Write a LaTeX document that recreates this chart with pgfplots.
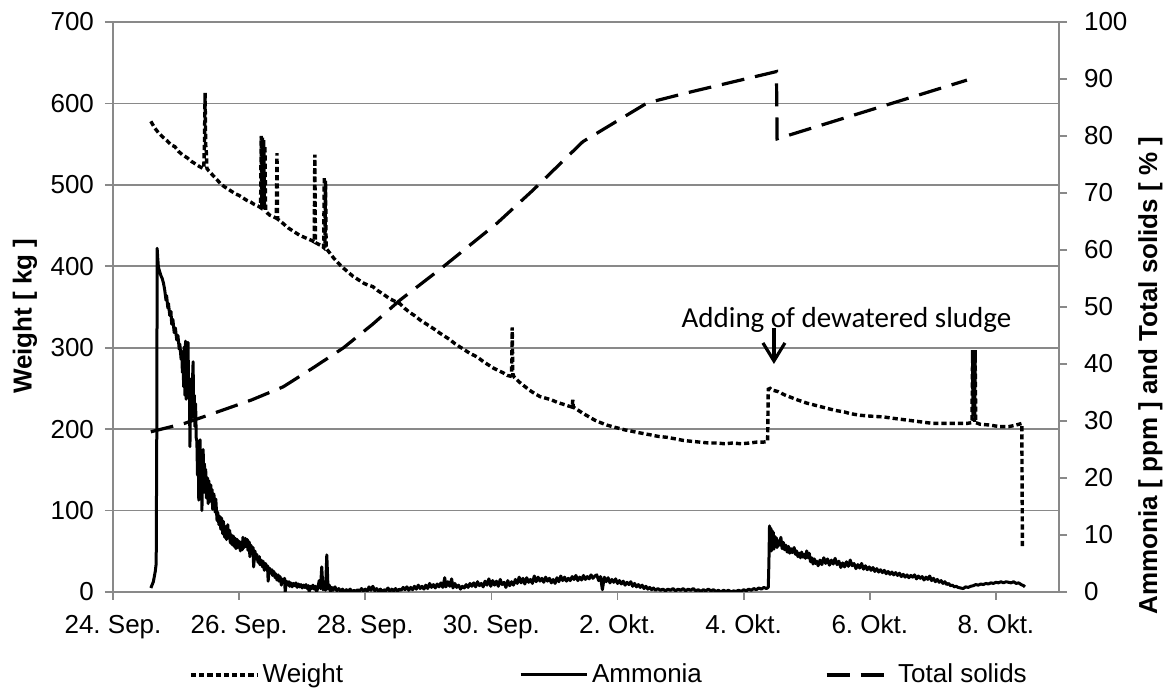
\documentclass[border=0pt]{standalone}
\usepackage{pgfplots}
\usepackage{pgfplotstable}
\pgfplotsset{compat=1.18}
\usetikzlibrary{arrows.meta}
\usepackage{fontspec}
\setmainfont{Liberation Sans}
\newfontfamily\calibri{Carlito}
\definecolor{gridgray}{RGB}{137,137,137}
\newcommand\tfont{\fontsize{13}{15}\selectfont}

\pgfplotstableread{
x y
0.60 578
0.66 570
0.72 564
0.80 558
0.86 554
0.92 549
0.98 547
1.04 541
1.10 537
1.18 533
1.24 529
1.30 526
1.36 523
1.43 520
1.44 521
1.45 552
1.46 613
1.47 549
1.48 540
1.49 520
1.52 517
1.58 512
1.64 507
1.70 502
1.76 498
1.82 495
1.88 492
1.94 489
2.00 487
2.06 484
2.12 481
2.18 479
2.24 476
2.30 474
2.34 472
2.35 560
2.36 472
2.37 558
2.38 470
2.39 555
2.40 470
2.41 548
2.42 468
2.44 466
2.48 463
2.54 461
2.59 459
2.60 539
2.61 458
2.66 455
2.72 451
2.78 447
2.84 444
2.90 441
2.96 438
3.02 436
3.08 434
3.14 432
3.19 430
3.20 537
3.21 429
3.26 427
3.31 425
3.34 423
3.35 510
3.36 423
3.37 505
3.38 422
3.44 416
3.50 410
3.56 405
3.62 400
3.68 396
3.74 392
3.80 388
3.86 385
3.92 382
3.98 379
4.04 377
4.12 375
4.20 370
4.28 366
4.39 360
4.47 357
4.55 354
4.63 348
4.71 343
4.79 339
4.87 334
4.95 330
5.03 326
5.11 322
5.18 318
5.26 314
5.34 310
5.42 305
5.50 301
5.58 297
5.66 293
5.74 290
5.82 286
5.87 283
5.95 279
6.03 275
6.11 272
6.19 269
6.25 266
6.30 265
6.32 268
6.33 325
6.34 268
6.36 264
6.44 258
6.52 253
6.60 248
6.68 244
6.77 240
6.86 238
6.95 236
7.04 233
7.12 231
7.20 229
7.28 227
7.29 236
7.30 227
7.38 223
7.46 219
7.55 215
7.64 211
7.73 208
7.83 205
7.92 203
8.02 201
8.12 199
8.25 197
8.38 195
8.52 193
8.65 191
8.78 190
8.92 188
9.05 186
9.18 185
9.31 184
9.44 183
9.57 183
9.70 182
9.83 183
9.96 182
10.10 183
10.20 184
10.31 184
10.38 185
10.39 249
10.42 250
10.45 248
10.55 246
10.65 242
10.75 239
10.85 236
11.00 232
11.15 229
11.30 226
11.45 223
11.60 221
11.69 219
11.85 217
12.00 216
12.21 215
12.40 213
12.60 211
12.80 209
13.00 207
13.20 207
13.40 207
13.54 207
13.62 208
13.63 297
13.64 210
13.65 296
13.66 209
13.67 297
13.68 208
13.75 206
13.90 205
14.06 203
14.20 203
14.32 205
14.41 207
14.42 55
}\weight

\pgfplotstableread{
x y
0.60 0.7
0.64 1.8
0.67 3.6
0.685 5.0
0.695 30
0.70 60.3
0.71 58.5
0.72 57.0
0.74 56.2
0.76 55.5
0.78 55.0
0.80 54.2
0.82 53.0
0.84 51.2
0.85 52.0
0.87 49.8
0.88 50.6
0.90 48.5
0.92 49.2
0.93 47.0
0.95 47.8
0.97 45.5
0.99 46.3
1.01 44.2
1.03 45.0
1.05 42.6
1.06 43.5
1.08 40.8
1.09 42.2
1.10 38.5
1.11 41.5
1.12 36.0
1.13 43.0
1.14 34.5
1.15 44.0
1.16 33.8
1.17 41.0
1.18 36.5
1.19 43.8
1.20 34.0
1.21 37.5
1.22 25.5
1.23 35.0
1.24 33.0
1.25 30.5
1.26 36.8
1.27 40.4
1.28 31.2
1.29 34.5
1.30 29.0
1.31 33.0
1.32 27.0
1.33 26.5
1.34 20.5
1.35 25.5
1.36 16.1
1.37 24.0
1.38 26.7
1.39 19.0
1.40 23.5
1.41 14.3
1.42 21.0
1.43 25.0
1.44 17.5
1.45 22.5
1.46 18.5
1.47 21.5
1.48 16.5
1.50 20.0
1.51 15.5
1.52 19.5
1.53 17.0
1.55 18.8
1.56 15.8
1.57 18.0
1.58 14.5
1.60 17.2
1.62 14.0
1.63 16.3
1.65 12.5
1.66 14.0
1.68 11.8
1.69 13.3
1.71 11.0
1.72 13.0
1.74 10.2
1.75 12.4
1.77 9.6
1.78 11.5
1.80 9.2
1.82 11.8
1.83 9.5
1.85 10.8
1.86 8.6
1.88 10.0
1.89 8.3
1.91 9.8
1.92 8.0
1.94 9.4
1.95 7.6
1.97 9.2
1.98 7.8
2.00 8.9
2.02 7.2
2.03 8.7
2.05 7.4
2.06 9.6
2.08 7.8
2.10 9.4
2.11 8.0
2.13 9.2
2.14 7.3
2.16 8.8
2.17 6.2
2.19 8.2
2.20 7.0
2.22 7.8
2.23 4.4
2.25 7.2
2.27 5.8
2.28 6.6
2.30 5.2
2.32 6.2
2.33 4.8
2.35 5.6
2.37 4.4
2.38 5.4
2.40 3.8
2.42 5.0
2.43 4.0
2.45 4.6
2.46 1.9
2.48 4.2
2.50 3.4
2.52 3.9
2.53 2.9
2.55 3.6
2.57 2.5
2.58 3.2
2.60 2.1
2.62 3.0
2.63 1.9
2.65 2.7
2.67 1.2
2.68 2.3
2.70 1.8
2.72 2.4
2.73 0.0
2.75 1.9
2.77 1.3
2.79 1.8
2.80 1.0
2.82 1.6
2.84 0.9
2.86 1.5
2.88 1.1
2.90 1.6
2.92 0.8
2.94 1.4
2.96 0.9
2.98 1.3
3.00 0.7
3.02 1.2
3.04 0.8
3.06 1.3
3.08 0.6
3.10 1.1
3.11 0.0
3.13 1.0
3.15 0.6
3.17 1.2
3.19 0.5
3.21 1.0
3.23 0.0
3.25 0.9
3.27 2.0
3.29 0.6
3.31 4.4
3.33 0.4
3.35 1.0
3.37 0.3
3.39 6.5
3.41 0.5
3.43 1.2
3.45 0.0
3.47 0.8
3.49 0.3
3.52 0.9
3.55 0.2
3.58 0.6
3.61 0.1
3.64 0.5
3.67 0.0
3.70 0.4
3.73 0.1
3.76 0.5
3.79 0.0
3.82 0.3
3.85 0.1
3.88 0.4
3.91 0.1
3.94 0.6
3.97 0.2
4.00 0.5
4.03 0.1
4.06 0.9
4.09 0.3
4.12 1.0
4.15 0.2
4.18 0.6
4.21 0.1
4.24 0.5
4.27 0.0
4.30 0.4
4.33 0.2
4.36 0.7
4.39 0.1
4.42 0.5
4.45 0.2
4.48 0.6
4.51 0.1
4.54 0.5
4.57 0.3
4.60 0.8
4.63 0.4
4.66 0.9
4.69 0.3
4.72 0.8
4.75 0.4
4.78 1.0
4.81 0.5
4.84 1.2
4.87 0.6
4.90 1.0
4.93 0.5
4.96 1.2
4.99 0.6
5.02 1.5
5.05 0.8
5.08 1.3
5.11 0.7
5.14 1.4
5.17 0.9
5.20 1.6
5.23 0.8
5.26 2.5
5.28 0.9
5.31 1.8
5.34 1.0
5.37 2.3
5.39 0.7
5.42 1.5
5.45 0.8
5.48 1.2
5.51 0.5
5.54 1.0
5.57 0.7
5.60 1.3
5.63 0.8
5.66 1.5
5.69 1.0
5.72 1.6
5.75 0.9
5.78 1.8
5.81 1.1
5.84 1.5
5.87 0.9
5.90 1.9
5.93 1.2
5.96 2.3
5.99 1.0
6.02 2.0
6.05 1.2
6.08 1.9
6.11 1.0
6.14 2.2
6.17 1.3
6.20 1.7
6.23 0.8
6.26 2.0
6.29 1.1
6.32 1.8
6.35 1.2
6.38 2.2
6.41 1.5
6.44 2.6
6.47 1.6
6.50 2.4
6.53 1.4
6.56 2.5
6.59 1.7
6.62 2.2
6.65 1.5
6.68 2.8
6.71 1.8
6.74 2.6
6.77 1.9
6.80 2.4
6.83 1.7
6.86 2.6
6.89 1.9
6.92 2.4
6.95 1.6
6.98 2.2
7.01 1.5
7.04 2.5
7.07 1.8
7.10 2.8
7.13 2.0
7.16 2.6
7.19 1.9
7.22 2.4
7.25 2.0
7.28 2.7
7.31 2.2
7.34 2.9
7.37 2.0
7.40 2.6
7.43 2.1
7.46 2.9
7.49 2.2
7.52 2.7
7.55 2.3
7.58 3.0
7.61 2.4
7.64 2.8
7.67 3.0
7.70 2.0
7.73 2.7
7.76 0.4
7.79 2.6
7.82 1.8
7.85 2.5
7.88 1.6
7.91 2.2
7.94 1.7
7.97 2.3
8.00 1.5
8.03 2.0
8.06 1.4
8.09 1.9
8.12 1.2
8.15 1.7
8.18 1.3
8.21 1.8
8.24 1.0
8.27 1.5
8.30 0.9
8.33 1.3
8.36 0.8
8.39 1.2
8.42 0.6
8.45 1.0
8.48 0.5
8.51 0.8
8.54 0.4
8.57 0.7
8.60 0.3
8.64 0.6
8.68 0.3
8.72 0.5
8.76 0.2
8.80 0.5
8.84 0.3
8.88 0.6
8.92 0.2
8.96 0.5
9.00 0.3
9.04 0.6
9.08 0.2
9.12 0.5
9.16 0.3
9.20 0.6
9.24 0.2
9.28 0.4
9.32 0.1
9.36 0.4
9.40 0.2
9.44 0.5
9.48 0.2
9.52 0.4
9.56 0.1
9.60 0.3
9.64 0.0
9.68 0.3
9.72 0.1
9.76 0.3
9.80 0.0
9.84 0.2
9.88 0.1
9.92 0.3
9.96 0.1
10.00 0.4
10.04 0.2
10.08 0.5
10.12 0.3
10.16 0.6
10.20 0.4
10.24 0.7
10.28 0.5
10.32 0.8
10.36 0.6
10.39 0.8
10.40 5.0
10.41 11.6
10.42 9.0
10.43 11.2
10.44 7.2
10.45 10.8
10.46 8.0
10.47 10.5
10.48 7.5
10.49 9.8
10.50 8.3
10.52 9.5
10.53 7.8
10.55 9.0
10.57 8.2
10.59 9.6
10.61 7.6
10.63 8.7
10.65 7.4
10.67 8.2
10.69 7.0
10.71 8.0
10.73 6.8
10.75 7.6
10.77 6.9
10.80 7.8
10.82 6.6
10.84 7.2
10.86 6.2
10.88 6.8
10.90 6.0
10.92 7.0
10.94 6.1
10.96 6.6
10.98 5.9
11.00 7.2
11.02 6.0
11.04 6.8
11.06 5.3
11.08 6.0
11.10 4.9
11.12 5.8
11.14 5.0
11.16 5.4
11.18 4.6
11.21 5.6
11.24 4.8
11.27 6.0
11.30 5.0
11.33 5.8
11.36 4.7
11.39 5.6
11.42 4.9
11.45 5.9
11.48 4.8
11.51 5.4
11.54 4.3
11.57 5.1
11.60 4.4
11.63 5.3
11.66 4.5
11.69 5.6
11.72 4.6
11.75 5.0
11.78 4.1
11.81 4.8
11.84 4.2
11.87 5.0
11.90 4.0
11.93 4.6
11.96 3.9
11.99 4.4
12.02 3.8
12.05 4.3
12.08 3.6
12.11 4.1
12.14 3.5
12.17 3.9
12.20 3.4
12.23 3.8
12.26 3.2
12.29 3.6
12.32 3.1
12.35 3.5
12.38 3.0
12.41 3.4
12.44 2.9
12.47 3.3
12.50 2.7
12.53 3.1
12.56 2.6
12.59 3.0
12.62 2.5
12.65 2.9
12.68 2.6
12.71 3.0
12.74 2.3
12.77 2.8
12.80 2.4
12.83 2.7
12.86 2.1
12.89 2.6
12.92 2.2
12.95 2.8
12.98 2.0
13.01 2.4
13.04 1.8
13.07 2.2
13.10 1.7
13.13 2.0
13.16 1.5
13.19 1.8
13.22 1.3
13.25 1.5
13.28 1.1
13.31 1.2
13.34 0.9
13.37 1.0
13.40 0.8
13.44 0.7
13.48 0.6
13.52 0.9
13.56 0.8
13.60 1.0
13.64 1.1
13.68 1.3
13.72 1.2
13.76 1.4
13.80 1.3
13.84 1.5
13.88 1.4
13.92 1.6
13.96 1.5
14.00 1.7
14.04 1.6
14.08 1.8
14.12 1.6
14.16 1.8
14.20 1.7
14.24 1.6
14.28 1.8
14.32 1.5
14.36 1.6
14.40 1.3
14.44 1.1
14.46 0.9
}\ammonia

\pgfplotstableread{
x y
0.60 28.1
1.14 29.6
1.66 31.6
2.20 33.7
2.70 36.0
3.17 39.3
3.65 42.8
4.12 47.0
4.55 51.2
5.23 57.0
6.09 64.7
6.66 70.5
7.45 79.0
8.47 85.8
9.15 87.7
10.52 91.3
10.53 79.5
13.54 89.8
}\solids

\tikzset{
  wstyle/.style={black, line width=1.7pt, dash pattern=on 2.6pt off 1.5pt},
  astyle/.style={black, line width=1.5pt, line join=round},
  tsstyle/.style={black, line width=1.6pt, dash pattern=on 11.5pt off 5.5pt},
}
\pgfplotsset{
  common/.style={
    scale only axis, width=473pt, height=285pt,
    xmin=0, xmax=15,
    axis line style={draw=gridgray, line width=0.9pt},
    tick style={draw=gridgray, line width=0.9pt},
    tick align=outside, major tick length=4pt,
    /pgf/number format/assume math mode=true,
    label style={font=\fontsize{13}{15}\selectfont\bfseries},
  }
}

\begin{document}
\frenchspacing
\begin{tikzpicture}
\begin{axis}[common, name=ax,
  ymin=0, ymax=700,
  axis x line*=bottom, axis y line*=left,
  xtick={0,2,...,14},
  xticklabels={{\tfont 24. Sep.},{\tfont 26. Sep.},{\tfont 28. Sep.},{\tfont 30. Sep.},{\tfont 2. Okt.},{\tfont 4. Okt.},{\tfont 6. Okt.},{\tfont 8. Okt.}},
  xticklabel style={font=\tfont, yshift=-4pt},
  ytick={0,100,...,700},
  yticklabel={\tfont\pgfmathprintnumber{\tick}},
  yticklabel style={font=\tfont, xshift=-2pt},
  ymajorgrids, grid style={draw=gridgray, line width=0.9pt},
  ylabel={Weight [ kg ]},
  ylabel style={at={(axis description cs:-0.093,0.484)}, anchor=center},
]
\addplot[wstyle] table {\weight};
\draw[line width=1.6pt, -{Straight Barb[length=9pt,width=11pt]}] (axis cs:10.48,324) -- (axis cs:10.48,280);
\node[anchor=base, font=\calibri\fontsize{14.5}{17}\selectfont, inner sep=0pt] at (axis cs:11.63,325.4) {Adding of dewatered sludge};
\end{axis}
\begin{axis}[common,
  ymin=0, ymax=100,
  axis x line=none, axis y line*=right,
  ytick={0,10,...,100},
  yticklabel={\tfont\pgfmathprintnumber{\tick}},
  yticklabel style={font=\tfont, xshift=5pt},
  ylabel={Ammonia [ ppm ] and Total solids [ \% ]},
  ylabel style={at={(axis description cs:1.0967,0.380)}, anchor=center},
  legend image code/.code={\draw[#1] (0pt,0pt) -- (33pt,0pt);},
  legend style={at={(axis description cs:0.5254,-0.1456)}, anchor=center, draw=none, fill=none,
    legend columns=3, font=\fontsize{13}{15}\selectfont,
    /tikz/every even column/.append style={column sep=0pt}},
]
\addlegendimage{wstyle}
\addlegendentry{Weight\hspace*{86pt}}
\addplot[astyle] table {\ammonia};
\addlegendentry{Ammonia\hspace*{59.5pt}}
\addplot[tsstyle] table {\solids};
\addlegendentry{Total solids}
\end{axis}
\pgfresetboundingbox
\path ([shift={(-56.5pt,-49.5pt)}]ax.south west) rectangle ([shift={(54.5pt,11pt)}]ax.north east);
\end{tikzpicture}
\end{document}
